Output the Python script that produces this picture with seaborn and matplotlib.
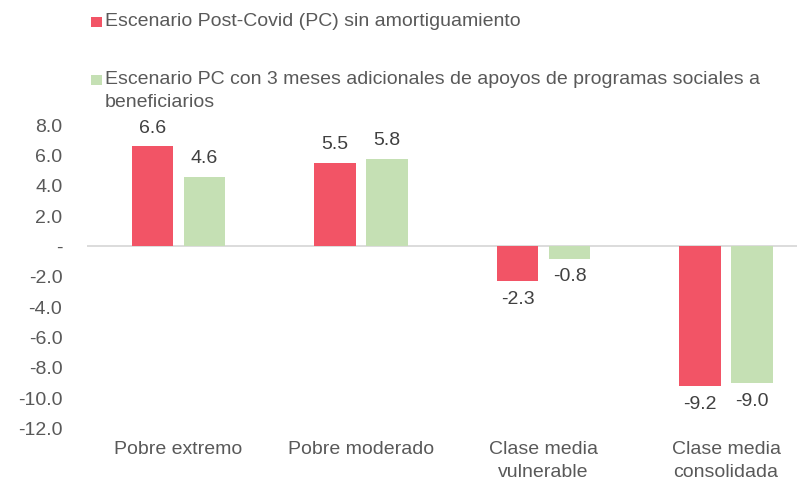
import matplotlib
matplotlib.use("Agg")
import matplotlib.pyplot as plt
from matplotlib.patches import Rectangle
import seaborn as sns
import pandas as pd

categories = ["Pobre extremo", "Pobre moderado", "Clase media\nvulnerable", "Clase media\nconsolidada"]
series_names = [
    "Escenario Post-Covid (PC) sin amortiguamiento",
    "Escenario PC con 3 meses adicionales de apoyos de programas sociales a\nbeneficiarios",
]
values_pc = [6.6, 5.5, -2.3, -9.2]
values_pc_apoyos = [4.6, 5.8, -0.8, -9.0]
y_ticks = [-12, -10, -8, -6, -4, -2, 0, 2, 4, 6, 8]

colors = ["#F25466", "#C5E0B4"]
tick_color = "#595959"
label_color = "#404040"

sns.set_theme(style="white")
plt.rcParams["font.family"] = ["Liberation Sans", "DejaVu Sans"]

df = pd.DataFrame({
    "categoria": categories * 2,
    "serie": [series_names[0]] * 4 + [series_names[1]] * 4,
    "valor": values_pc + values_pc_apoyos,
})

fig = plt.figure(figsize=(7.97, 4.8), dpi=100)
ax = fig.add_axes([0.1095, 0.1077, 0.8905, 0.739 - 0.1077])

sns.barplot(data=df, x="categoria", y="valor", hue="serie", order=categories,
            hue_order=series_names, palette=colors, width=0.57, gap=0.21,
            linewidth=0, saturation=1, legend=False, ax=ax, errorbar=None)

for cont in ax.containers:
    ax.bar_label(cont, fmt="%.1f", padding=7, fontsize=14, color=label_color)

ax.axhline(0, color="#D9D9D9", lw=1.3, zorder=0.5)
ax.set_ylim(-12, 8)
ax.set_xlim(-0.5, 3.389)
ax.set_yticks(y_ticks)
ax.set_yticklabels(["-" if v == 0 else f"{v:.1f}" for v in y_ticks])
ax.tick_params(axis="y", length=0, pad=18, labelsize=14, labelcolor=tick_color)
ax.tick_params(axis="x", length=0, pad=9, labelsize=14, labelcolor=tick_color)
for t in ax.get_xticklabels():
    t.set_linespacing(1.5)
ax.set_xlabel("")
ax.set_ylabel("")
for s in ax.spines.values():
    s.set_visible(False)

# Legend drawn at the top of the figure
W, H = 797, 480
legend_entries = [(series_names[0], 22, 22), (series_names[1], 80, 91)]
for (name, sq_y, txt_y), col in zip(legend_entries, colors):
    fig.patches.append(Rectangle((91 / W, 1 - (sq_y + 5) / H), 11 / W, 10 / H,
                                 transform=fig.transFigure, color=col, lw=0))
    fig.text(105 / W, 1 - txt_y / H, name, fontsize=14, color=tick_color,
             va="center", ha="left", linespacing=1.5)

fig.savefig("out.png", dpi=100)
